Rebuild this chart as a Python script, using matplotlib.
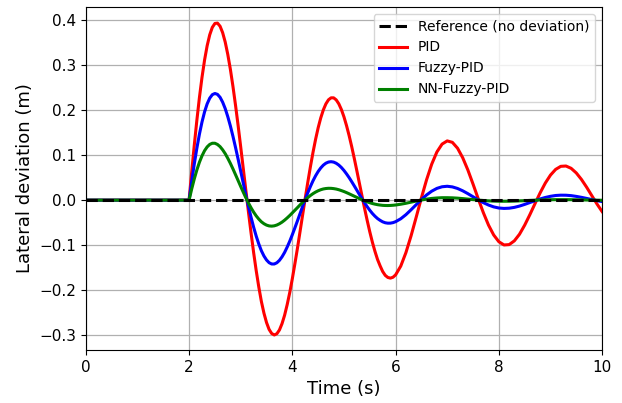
import numpy as np
import matplotlib
matplotlib.use("Agg")
import matplotlib.pyplot as plt

# values read every 0.1 s from t = 2.0 to 10.0 (before t = 2 all curves are 0)
t_start = 2.0
t_end = 10.0

pid = [
 0.0, 0.1214, 0.2277, 0.3114, 0.3674, 0.3925, 0.3864, 0.3511, 0.2905, 0.2104,
 0.1181, 0.0212, -0.0727, -0.1566, -0.2251, -0.2720, -0.2963, -0.2969, -0.2745, -0.2322,
 -0.1744, -0.1061, -0.0323, 0.0401, 0.1060, 0.1607, 0.2004, 0.2229, 0.2273, 0.2140,
 0.1850, 0.1433, 0.0925, 0.0369, -0.0187, -0.0703, -0.1137, -0.1460, -0.1672, -0.1733,
 -0.1661, -0.1466, -0.1166, -0.0792, -0.0375, 0.0050, 0.0452, 0.0800, 0.1070, 0.1245,
 0.1316, 0.1284, 0.1154, 0.0942, 0.0670, 0.0357, 0.0032, -0.0279, -0.0555, -0.0774,
 -0.0924, -0.0996, -0.0988, -0.0905, -0.0758, -0.0557, -0.0325, -0.0079, 0.0162, 0.0379,
 0.0556, 0.0683, 0.0751, 0.0758, 0.0707, 0.0604, 0.0460, 0.0288, 0.0101, -0.0084,
 -0.0254]

fuzzy_pid = [
 0.0, 0.0798, 0.1465, 0.1962, 0.2266, 0.2370, 0.2285, 0.2033, 0.1647, 0.1168,
 0.0642, 0.0113, -0.0379, -0.0799, -0.1124, -0.1330, -0.1419, -0.1392, -0.1260, -0.1043,
 -0.0767, -0.0457, -0.0136, 0.0166, 0.0429, 0.0636, 0.0777, 0.0846, 0.0845, 0.0779,
 0.0659, 0.0500, 0.0316, 0.0123, -0.0061, -0.0225, -0.0357, -0.0449, -0.0503, -0.0511,
 -0.0479, -0.0414, -0.0323, -0.0214, -0.0100, 0.0013, 0.0115, 0.0199, 0.0261, 0.0297,
 0.0308, 0.0294, 0.0259, 0.0207, 0.0144, 0.0075, 0.0007, -0.0056, -0.0109, -0.0150,
 -0.0175, -0.0184, -0.0179, -0.0161, -0.0132, -0.0095, -0.0054, -0.0013, 0.0026, 0.0059,
 0.0085, 0.0103, 0.0110, 0.0109, 0.0100, 0.0083, 0.0062, 0.0038, 0.0013, -0.0011,
 -0.0032]

nn_fuzzy_pid = [
 0.0, 0.0469, 0.0841, 0.1099, 0.1238, 0.1264, 0.1189, 0.1032, 0.0816, 0.0564,
 0.0303, 0.0052, -0.0170, -0.0350, -0.0481, -0.0555, -0.0578, -0.0553, -0.0489, -0.0395,
 -0.0283, -0.0165, -0.0048, 0.0057, 0.0144, 0.0208, 0.0248, 0.0263, 0.0256, 0.0231,
 0.0191, 0.0141, 0.0087, 0.0033, -0.0016, -0.0058, -0.0089, -0.0109, -0.0119, -0.0118,
 -0.0108, -0.0091, -0.0070, -0.0045, -0.0020, 0.0003, 0.0022, 0.0038, 0.0048, 0.0054,
 0.0054, 0.0051, 0.0044, 0.0034, 0.0023, 0.0012, 0.0001, -0.0008, -0.0016, -0.0021,
 -0.0024, -0.0025, -0.0024, -0.0021, -0.0016, -0.0012, -0.0006, -0.0001, 0.0003, 0.0007,
 0.0009, 0.0011, 0.0011, 0.0011, 0.0010, 0.0008, 0.0006, 0.0003, 0.0001, -0.0001,
 -0.0003]

# extra readings at the half steps 2.05, 2.15, ..., 5.95 s (steep first swings)
pid_half = [
 0.0620, 0.1769, 0.2727, 0.3431, 0.3839, 0.3933, 0.3721, 0.3235, 0.2524, 0.1655,
 0.0697, -0.0266, -0.1164, -0.1929, -0.2511, -0.2873, -0.2996, -0.2885, -0.2558, -0.2052,
 -0.1409, -0.0693, 0.0044, 0.0742, 0.1350, 0.1826, 0.2139, 0.2273, 0.2227, 0.2013,
 0.1654, 0.1189, 0.0650, 0.0089, -0.0452, -0.0933, -0.1318, -0.1586, -0.1718, -0.1713]

fuzzy_pid_half = [
 0.0412, 0.1150, 0.1736, 0.2139, 0.2343, 0.2350, 0.2177, 0.1853, 0.1416, 0.0909,
 0.0375, -0.0140, -0.0600, -0.0974, -0.1241, -0.1390, -0.1419, -0.1338, -0.1162, -0.0912,
 -0.0614, -0.0296, 0.0018, 0.0303, 0.0540, 0.0715, 0.0821, 0.0854, 0.0819, 0.0725,
 0.0583, 0.0410, 0.0220, 0.0029, -0.0146, -0.0296, -0.0409, -0.0482, -0.0512, -0.0500]

nn_fuzzy_pid_half = [
 0.0245, 0.0668, 0.0984, 0.1183, 0.1264, 0.1237, 0.1118, 0.0929, 0.0693, 0.0434,
 0.0175, -0.0064, -0.0266, -0.0421, -0.0524, -0.0573, -0.0571, -0.0525, -0.0445, -0.0341,
 -0.0224, -0.0105, 0.0006, 0.0103, 0.0179, 0.0231, 0.0258, 0.0262, 0.0246, 0.0212,
 0.0167, 0.0114, 0.0060, 0.0008, -0.0038, -0.0075, -0.0101, -0.0116, -0.0120, -0.0114]

reference_t = [0.0, 10.0]
reference_y = [0.0, 0.0]


def merge(main, half):
    t_main = np.linspace(t_start, t_end, len(main))
    t_half = t_start + 0.05 + 0.1 * np.arange(len(half))
    t = np.concatenate([[0.0], t_main, t_half])
    y = np.concatenate([[0.0], main, half])
    order = np.argsort(t, kind="stable")
    return t[order], y[order]


fig = plt.figure(figsize=(6.22, 4.03), dpi=100)
ax = fig.add_axes([0.138, 0.1315, 0.830, 0.851])

ax.plot(reference_t, reference_y, color="black", linestyle="--", linewidth=2.2,
        label="Reference (no deviation)", zorder=5)
t, y = merge(pid, pid_half)
ax.plot(t, y, color="red", linewidth=2.2, label="PID")
t, y = merge(fuzzy_pid, fuzzy_pid_half)
ax.plot(t, y, color="blue", linewidth=2.2, label="Fuzzy-PID")
t, y = merge(nn_fuzzy_pid, nn_fuzzy_pid_half)
ax.plot(t, y, color="green", linewidth=2.2, label="NN-Fuzzy-PID")

ax.set_xlim(0, 10)
ax.set_ylim(-0.333, 0.429)
ax.set_xticks([0, 2, 4, 6, 8, 10])
ax.set_yticks([-0.3, -0.2, -0.1, 0.0, 0.1, 0.2, 0.3, 0.4])
ax.grid(True, color="#b0b0b0", linewidth=0.9)
ax.tick_params(labelsize=11)
ax.set_xlabel("Time (s)", fontsize=13)
ax.set_ylabel("Lateral deviation (m)", fontsize=13)
ax.legend(loc="upper right", fontsize=10)

fig.savefig("out.png", dpi=100)
